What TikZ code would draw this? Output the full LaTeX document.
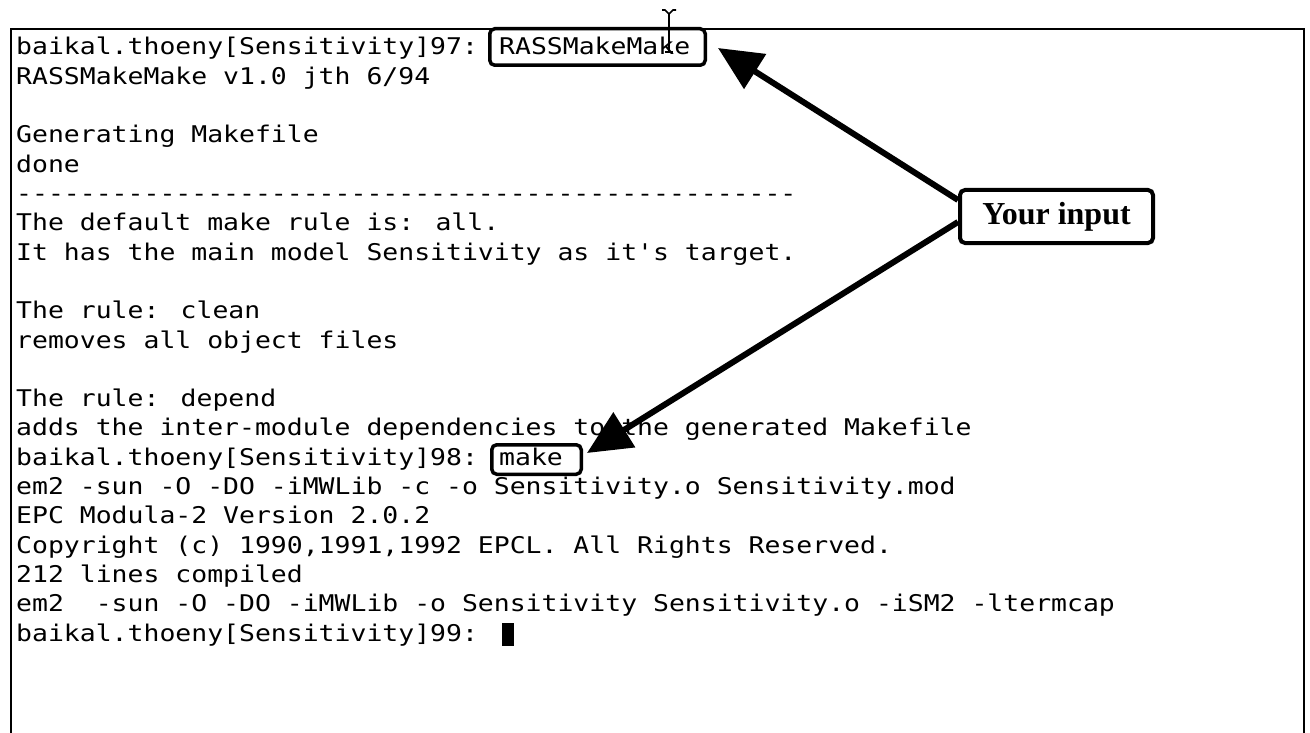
\documentclass[tikz,border=0pt]{standalone}
\usepackage{fontspec}
\setmainfont{Liberation Serif}
\newfontfamily\term[FakeStretch=1.15,Ligatures=TeXOff]{DejaVu Sans Mono}
\usetikzlibrary{arrows.meta,calc}
\begin{document}
\begin{tikzpicture}[x=1pt,y=-1pt,
  termline/.style={anchor=base west,inner sep=0pt,font=\term\fontsize{23}{23}\selectfont},
  hlbox/.style={draw,line width=3.5pt,rounded corners=5pt,inner sep=0pt},
  callout/.style={draw,line width=4pt,rounded corners=5pt,inner sep=0pt,
    font=\bfseries\fontsize{32}{32}\selectfont},
  arr/.style={line width=6pt,-{Triangle[length=44pt,width=40pt]}},
  frame/.style={line width=2.6pt}
]
\useasboundingbox (0,0) rectangle (1310,733);
% window frame
\draw[frame] (11,733) -- (11,29) -- (1304,29) -- (1304,733);
% terminal lines
\node[termline] (l1)  at (16,55)    {baikal.thoeny[Sensitivity]97: RASSMakeMake};
\node[termline] (l2)  at (16,84.3)  {RASSMakeMake v1.0 jth 6/94};
\node[termline] (l4)  at (16,142.9) {Generating Makefile};
\node[termline] (l5)  at (16,172.2) {done};
\node[termline] (l6)  at (16,201.5) {-------------------------------------------------};
\node[termline] (l7)  at (16,230.8) {The default make rule is: all.};
\node[termline] (l8)  at (16,260.1) {It has the main model Sensitivity as it's target.};
\node[termline] (l10) at (16,318.7) {The rule: clean};
\node[termline] (l11) at (16,348)   {removes all object files};
\node[termline] (l13) at (16,406.6) {The rule: depend};
\node[termline] (l14) at (16,435.9) {adds the inter-module dependencies to the generated Makefile};
\node[termline] (l15) at (16,465.2) {baikal.thoeny[Sensitivity]98: make};
\node[termline] (l16) at (16,494.5) {em2 -sun -O -DO -iMWLib -c -o Sensitivity.o Sensitivity.mod};
\node[termline] (l17) at (16,523.8) {EPC Modula-2 Version 2.0.2};
\node[termline] (l18) at (16,553.1) {Copyright (c) 1990,1991,1992 EPCL. All Rights Reserved.};
\node[termline] (l19) at (16,582.4) {212 lines compiled};
\node[termline] (l20) at (16,611.7) {em2\ \ -sun -O -DO -iMWLib -o Sensitivity Sensitivity.o -iSM2 -ltermcap};
\node[termline] (l21) at (16,641)   {baikal.thoeny[Sensitivity]99:};
% text cursor block
\node[fill=black,inner sep=0pt,minimum width=12pt,minimum height=23pt] (cur) at (508,634.5) {};
% highlight boxes
\node[hlbox,minimum width=215.5pt,minimum height=36.5pt] (rass) at (597.5,47) {};
\node[hlbox,minimum width=89.5pt,minimum height=29.5pt] (make) at (536.5,459.5) {};
% callout
\node[callout,minimum width=193pt,minimum height=53pt] (input) at (1056.5,216.5) {Your input};
% arrows
\draw[arr] ($(input.west)+(0,-16.5)$) -- ($(rass.east)+(11,1)$);
\draw[arr] ($(input.west)+(0,5.5)$) -- ($(make.east)+(4,-6.5)$);
% mouse I-beam
\draw[line width=2pt] (669,13) -- (669,52);
\draw[line width=1.6pt] (662,10) -- (665,10) -- (669,14) -- (673,10) -- (676,10);
\draw[line width=1.6pt] (665,52) -- (673,52);
\end{tikzpicture}
\end{document}
